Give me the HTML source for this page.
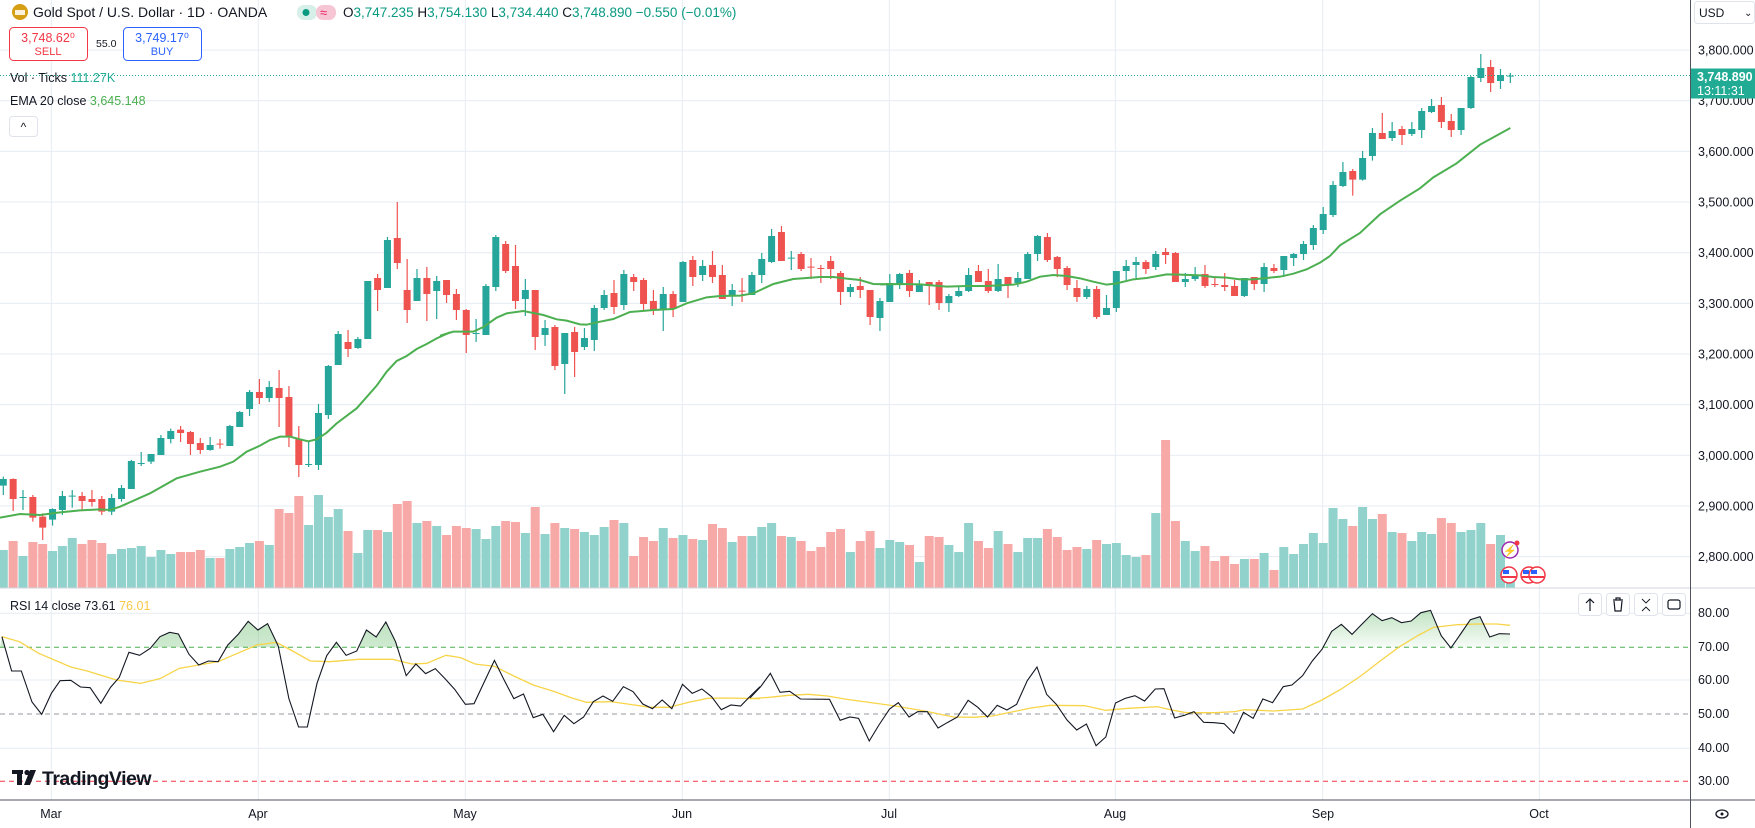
<!DOCTYPE html>
<html><head><meta charset="utf-8">
<style>
html,body{margin:0;padding:0;background:#fff;}
svg{display:block;font-family:"Liberation Sans",sans-serif;}
.ns{vector-effect:non-scaling-stroke;fill:none;stroke-linecap:butt;}
</style></head>
<body>
<svg width="1755" height="828" viewBox="0 0 1755 828" xmlns="http://www.w3.org/2000/svg">
<defs>
<linearGradient id="gf" x1="0" y1="0" x2="0" y2="1"><stop offset="0" stop-color="#4caf50" stop-opacity="0.35"/><stop offset="1" stop-color="#4caf50" stop-opacity="0.03"/></linearGradient>
<clipPath id="above70"><rect x="0" y="0" width="1600" height="172"/></clipPath>
</defs>
<rect width="1755" height="828" fill="#fff"/>
<g stroke="#e6ecf2" stroke-width="1">
<line x1="0" y1="50.1" x2="1690" y2="50.1"/><line x1="0" y1="100.75" x2="1690" y2="100.75"/><line x1="0" y1="151.4" x2="1690" y2="151.4"/><line x1="0" y1="202.05" x2="1690" y2="202.05"/><line x1="0" y1="252.7" x2="1690" y2="252.7"/><line x1="0" y1="303.35" x2="1690" y2="303.35"/><line x1="0" y1="354" x2="1690" y2="354"/><line x1="0" y1="404.65" x2="1690" y2="404.65"/><line x1="0" y1="455.3" x2="1690" y2="455.3"/><line x1="0" y1="505.95" x2="1690" y2="505.95"/><line x1="0" y1="556.6" x2="1690" y2="556.6"/>
<line x1="0" y1="613.3" x2="1690" y2="613.3"/><line x1="0" y1="680" x2="1690" y2="680"/><line x1="0" y1="748.3" x2="1690" y2="748.3"/>
<line x1="51.3" y1="0" x2="51.3" y2="800"/><line x1="258.3" y1="0" x2="258.3" y2="800"/><line x1="465.3" y1="0" x2="465.3" y2="800"/><line x1="682.3" y1="0" x2="682.3" y2="800"/><line x1="889.3" y1="0" x2="889.3" y2="800"/><line x1="1115.3" y1="0" x2="1115.3" y2="800"/><line x1="1322.7" y1="0" x2="1322.7" y2="800"/><line x1="1539.3" y1="0" x2="1539.3" y2="800"/>
</g>

<g transform="translate(-6.55,180) scale(9.85,0.333333)">
<path class="ns" stroke="#92d2cc" stroke-width="9" d="M1 1110V1223M3 1128V1223M6 1113V1223M7 1098V1223M8 1074V1223M12 1122V1223M13 1107V1223M14 1104V1223M15 1098V1223M16 1131V1223M17 1110V1223M18 1122V1223M22 1134V1223M24 1107V1223M25 1101V1223M26 1089V1223M28 1095V1223M32 1035V1223M33 945V1223M34 1011V1223M35 987V1223M37 1119V1223M38 1050V1223M40 1056V1223M43 1029V1223M45 1038V1223M49 1047V1223M50 1077V1223M51 1038V1223M54 1059V1223M56 1062V1223M58 1044V1223M60 1056V1223M61 1065V1223M62 1041V1223M64 1029V1223M68 1044V1223M70 1065V1223M72 1080V1223M75 1086V1223M77 1068V1223M78 1041V1223M79 1029V1223M81 1071V1223M87 1116V1223M90 1104V1223M91 1080V1223M92 1086V1223M94 1146V1223M97 1095V1223M98 1116V1223M99 1029V1223M102 1053V1223M104 1116V1223M105 1074V1223M106 1074V1223M111 1107V1223M113 1092V1223M114 1089V1223M115 1125V1223M116 1131V1223M118 999V1223M121 1083V1223M122 1113V1223M127 1137V1223M129 1119V1223M131 1101V1223M132 1122V1223M133 1092V1223M134 1059V1223M135 1089V1223M136 984V1223M137 1017V1223M139 981V1223M140 1017V1223M142 1056V1223M144 1083V1223M145 1056V1223M146 1062V1223M149 1056V1223M150 1050V1223M151 1029V1223M153 1065V1223M154 1180V1223"/>
<path class="ns" stroke="#f7a9a7" stroke-width="9" d="M2 1083V1223M4 1086V1223M5 1092V1223M9 1092V1223M10 1080V1223M11 1089V1223M19 1116V1223M20 1116V1223M21 1110V1223M23 1134V1223M27 1083V1223M29 987V1223M30 999V1223M31 948V1223M36 1053V1223M39 1050V1223M41 972V1223M42 963V1223M44 1023V1223M46 1065V1223M47 1038V1223M48 1044V1223M52 1023V1223M53 1026V1223M55 981V1223M57 1029V1223M59 1047V1223M63 1020V1223M65 1128V1223M66 1071V1223M67 1083V1223M69 1074V1223M71 1077V1223M73 1032V1223M74 1044V1223M76 1068V1223M80 1068V1223M82 1083V1223M83 1113V1223M84 1101V1223M85 1056V1223M86 1047V1223M88 1083V1223M89 1053V1223M93 1095V1223M95 1068V1223M96 1071V1223M100 1083V1223M101 1104V1223M103 1092V1223M107 1047V1223M108 1071V1223M109 1110V1223M110 1101V1223M112 1080V1223M117 1125V1223M119 780V1223M120 1023V1223M123 1098V1223M124 1143V1223M125 1128V1223M126 1152V1223M128 1137V1223M130 1170V1223M138 1038V1223M141 1002V1223M143 1059V1223M147 1014V1223M148 1029V1223M152 1092V1223"/>
<path class="ns" stroke="#26a69a" stroke-width="1.2" d="M1 890V945M3 930V990M6 985V1037M7 933V1005M8 930V983M12 942V1005M13 915V965M14 840V927M15 816V858M16 822V852M17 765V825M18 746V790M22 771V812M24 735V798M25 693V741M26 630V708M28 603V666M32 786V861M33 672V870M34 555V717M35 453V555M37 471V507M38 303V477M40 171V324M43 267V363M45 288V417M49 417V486M50 312V465M51 165V333M54 297V408M56 420V498M58 459V642M60 444V510M61 375V513M62 330V390M64 270V390M68 321V453M70 243V366M72 240V303M75 312V378M77 276V345M78 219V309M79 147V249M81 213V270M87 312V351M90 354V453M91 282V366M92 279V327M94 300V336M97 342V396M98 321V351M99 264V336M102 252V336M104 276V321M105 216V297M106 165V243M111 318V357M113 345V405M114 273V396M115 240V300M116 231V294M118 213V270M121 279V321M122 261V303M127 294V351M129 249V336M131 228V291M132 219V258M133 183V240M134 135V210M135 81V162M136 3V111M137 -54V21M139 -87V2M140 -156V-58M142 -174V-117M144 -174V-132M145 -216V-126M146 -243V-201M149 -216V-135M150 -312V-213M151 -378V-294M153 -333V-273M154 -321V-291"/>
<path class="ns" stroke="#26a69a" stroke-width="7" d="M1 897V917M3 951V954M6 987V1019M7 948V990M8 947V950M12 954V995M13 924V957M14 843V927M15 849V852M16 822V845M17 774V825M18 753V777M22 795V810M24 738V798M25 696V741M26 636V687M28 621V654M32 852V855M33 699V855M34 558V705M35 462V555M37 477V504M38 303V477M40 180V324M43 294V363M45 303V333M49 459V462M50 318V465M51 171V321M54 330V357M56 444V465M58 459V552M60 474V501M61 384V480M62 345V384M64 282V375M68 342V390M70 246V366M72 258V285M75 330V345M77 285V345M78 237V285M79 168V246M81 233V236M87 321V336M90 363V414M91 309V366M92 282V312M94 312V336M97 348V369M98 333V348M99 285V333M102 297V333M104 294V309M105 222V297M106 168V222M111 327V351M113 384V405M114 273V384M115 258V273M116 246V255M118 222V261M121 297V306M122 285V297M127 294V348M129 261V312M131 228V270M132 222V234M133 192V222M134 144V195M135 102V150M136 15V105M137 -24V18M139 -66V-1M140 -141V-72M142 -147V-126M144 -153V-138M145 -207V-150M146 -222V-204M149 -216V-150M150 -309V-216M151 -336V-306M153 -315V-297M154 -313V-310"/>
<path class="ns" stroke="#ef5350" stroke-width="1.2" d="M2 895V993M4 945V1025M5 1000V1080M9 936V990M10 930V980M11 948V1005M19 738V786M20 753V825M21 774V822M23 777V806M27 597V672M29 570V741M30 618V801M31 738V891M36 450V531M39 282V393M41 66V267M42 237V429M44 261V423M46 300V369M47 327V420M48 387V519M52 183V279M53 195V387M55 330V510M57 435V570M59 441V591M63 300V402M65 282V333M66 294V390M67 330V405M69 333V411M71 228V318M73 213V309M74 255V357M76 294V366M80 138V243M82 216V273M83 234V297M84 255V309M85 228V297M86 273V375M88 291V354M89 330V435M93 270V351M95 306V375M96 300V390M100 255V306M101 267V339M103 291V354M107 159V246M108 228V291M109 258V330M110 300V366M112 318V417M117 240V282M119 204V252M120 216V306M123 255V324M124 294V321M125 279V333M126 300V348M128 291V330M130 252V279M138 -33V47M141 -201V-123M143 -162V-105M147 -249V-156M148 -198V-129M152 -360V-264"/>
<path class="ns" stroke="#ef5350" stroke-width="7" d="M2 897V957M4 951V1013M5 1010V1043M9 948V963M10 957V966M11 957V995M19 749V759M20 756V792M21 789V810M23 791V794M27 636V654M29 624V654M30 651V771M31 777V855M36 486V507M39 294V330M41 174V249M42 330V390M44 294V342M46 300V345M47 342V390M48 390V465M52 192V273M53 258V363M55 330V471M57 441V558M59 456V516M63 339V381M65 291V306M66 300V372M67 363V390M69 342V387M71 240V291M73 255V291M74 285V357M76 332V335M80 156V243M82 222V267M83 260V263M84 264V267M85 243V267M86 279V336M88 318V330M89 330V411M93 279V333M95 306V318M96 306V369M100 273V306M101 303V333M103 291V312M107 171V240M108 231V267M109 264V315M110 324V351M112 327V411M117 246V267M119 216V225M120 219V306M123 282V318M124 312V315M125 315V321M126 318V348M128 291V312M130 264V273M138 -27V-1M141 -141V-123M143 -153V-135M147 -225V-174M148 -177V-150M152 -339V-291"/>
</g>

<g fill="none">
<polyline class="ns" stroke="#4caf50" stroke-width="2" transform="translate(0,180) scale(0.333333)" points="0,1013 60,1002 120,1005 180,997 240,991 300,988 330,990 360,980 450,940 530,895 600,875 660,860 700,845 740,815 780,797 810,780 840,770 870,770 900,778 925,784 950,778 980,758 1010,730 1070,685 1130,617 1160,575 1190,543 1220,528 1250,507 1280,492 1310,475 1350,457"/>
<polyline class="ns" stroke="#4caf50" stroke-width="2" transform="translate(440,180) scale(0.333333)" points="0,467 40,455 100,455 130,441 170,413 200,400 250,393 310,405 350,418 380,422 420,433 440,434 480,425 520,417 570,396 640,390 700,387 740,370 800,352 840,348 900,347 940,340 1000,312 1060,297 1140,291 1180,291 1220,296 1260,300 1300,312 1350,313"/>
<polyline class="ns" stroke="#4caf50" stroke-width="2" transform="translate(880,180) scale(0.333333)" points="0,313 60,312 120,313 200,320 260,318 320,318 400,314 440,305 480,290 520,285 560,288 600,295 640,305 680,314 710,310 760,298 800,294 860,283 900,284 960,286 1000,291 1040,293 1080,298 1120,298 1160,294 1200,290 1240,281 1280,268 1320,248 1350,228"/>
<polyline class="ns" stroke="#4caf50" stroke-width="2" transform="translate(1300,180) scale(0.333333)" points="90,228 120,196 180,159 240,103 300,62 360,25 400,-8 470,-50 540,-106 631,-156"/>
</g>
<line x1="0" y1="75.5" x2="1690" y2="75.5" stroke="#22ab94" stroke-width="1" stroke-dasharray="1 2"/>

<line x1="0" y1="647.3" x2="1690" y2="647.3" stroke="#4caf50" stroke-dasharray="5 4"/>
<line x1="0" y1="714" x2="1690" y2="714" stroke="#9598a1" stroke-dasharray="5 4"/>
<line x1="0" y1="781.3" x2="1690" y2="781.3" stroke="#f23645" stroke-dasharray="5 4"/>
<g transform="translate(0,590) scale(0.48473,0.33333)">
<polygon clip-path="url(#above70)" fill="url(#gf)" points="0,172 4,140 24,243 44,243 66,336 86,373 106,310 124,272 146,271 166,291 186,293 208,340 228,292 246,262 266,187 288,196 310,175 330,140 350,127 368,132 390,193 410,225 430,213 450,215 470,165 492,132 512,94 532,120 552,101 574,168 596,326 616,411 634,411 654,280 674,197 694,157 714,196 736,183 756,120 776,141 796,96 816,155 838,257 858,222 1568,172"/>
<polyline fill="none" stroke="#f7d448" stroke-width="1.3" vector-effect="non-scaling-stroke" points="4,140 40,155 80,190 146,231 180,243 240,270 290,280 330,266 370,235 410,225 450,215 490,190 530,165 570,157 600,180 640,213 680,215 740,208 810,208 850,222 880,220 920,196 950,203 980,222 1020,229 1060,258 1100,285 1140,303 1180,324 1210,337 1260,335 1300,343 1340,352 1380,352 1420,337 1460,325 1500,324 1568,326"/>
<polyline fill="none" stroke="#131722" stroke-width="1.1" vector-effect="non-scaling-stroke" points="4,140 24,243 44,243 66,336 86,373 106,310 124,272 146,271 166,291 186,293 208,340 228,292 246,262 266,187 288,196 310,175 330,140 350,127 368,132 390,193 410,225 430,213 450,215 470,165 492,132 512,94 532,120 552,101 574,168 596,326 616,411 634,411 654,280 674,197 694,157 714,196 736,183 756,120 776,141 796,96 816,155 838,257 858,222 878,251 898,236 918,266 938,298 960,343 978,341 998,279 1020,211 1040,270 1060,326 1080,312 1100,383 1120,373 1142,425 1164,376 1184,401 1204,381 1224,335 1244,318 1264,334 1286,290 1306,305 1326,342 1346,356 1366,330 1386,356 1408,283 1428,310 1448,297 1468,320 1488,359 1508,345 1528,348 1548,318 1568,290"/>
</g>
<g transform="translate(750,590) scale(0.48473,0.33333)">
<polygon clip-path="url(#above70)" fill="url(#gf)" points="1160,172 1180,178 1200,124 1220,103 1242,133 1262,103 1284,71 1304,92 1324,83 1344,98 1364,93 1384,68 1404,61 1426,137 1446,174 1466,132 1486,89 1506,80 1526,141 1546,131 1568,132 1568,172"/>
<polyline fill="none" stroke="#f7d448" stroke-width="1.3" vector-effect="non-scaling-stroke" points="0,326 40,322 80,316 120,313 160,318 200,328 240,336 300,348 360,363 420,381 460,382 500,378 540,366 580,354 620,346 690,347 734,361 780,355 840,350 870,360 900,368 960,368 1000,365 1020,359 1080,363 1140,357 1180,330 1220,297 1260,258 1300,213 1340,170 1380,135 1410,112 1460,104 1500,102 1540,102 1568,106"/>
<polyline fill="none" stroke="#131722" stroke-width="1.1" vector-effect="non-scaling-stroke" points="0,324 22,290 42,250 62,307 82,304 104,327 164,328 186,391 206,381 224,385 246,453 266,405 288,357 306,338 328,381 346,365 366,365 388,414 408,397 428,381 450,331 470,352 490,381 510,346 530,360 550,343 572,272 592,231 612,313 632,343 654,390 674,420 694,402 714,467 734,441 754,339 774,325 794,317 814,333 836,297 854,296 876,384 896,376 916,365 936,397 958,398 978,401 998,430 1018,367 1038,385 1058,327 1078,338 1100,290 1118,285 1140,257 1160,213 1180,178 1200,124 1220,103 1242,133 1262,103 1284,71 1304,92 1324,83 1344,98 1364,93 1384,68 1404,61 1426,137 1446,174 1466,132 1486,89 1506,80 1526,141 1546,131 1568,132"/>
</g>

<line x1="0" y1="588" x2="1755" y2="588" stroke="#d1d4dc"/>
<line x1="0" y1="800" x2="1755" y2="800" stroke="#50535e"/>
<line x1="1690.5" y1="0" x2="1690.5" y2="828" stroke="#50535e"/>

<g font-size="12.5" fill="#131722">
<text x="1698" y="54.6">3,800.000</text><text x="1698" y="105.2">3,700.000</text><text x="1698" y="155.9">3,600.000</text><text x="1698" y="206.5">3,500.000</text><text x="1698" y="257.2">3,400.000</text><text x="1698" y="307.8">3,300.000</text><text x="1698" y="358.5">3,200.000</text><text x="1698" y="409.1">3,100.000</text><text x="1698" y="459.8">3,000.000</text><text x="1698" y="510.4">2,900.000</text><text x="1698" y="561.1">2,800.000</text>
</g>
<rect x="1691" y="68.5" width="64" height="30" fill="#22ab94"/>
<text x="1697" y="81" font-size="12.5" fill="#fff" font-weight="bold">3,748.890</text>
<text x="1697" y="95" font-size="12.5" fill="#fff">13:11:31</text>
<rect x="1694.5" y="1.5" width="60" height="22" rx="3" fill="#fff" stroke="#e0e3eb"/>
<text x="1699" y="17" font-size="12" fill="#131722">USD</text>
<text x="1744" y="16" font-size="10" fill="#131722">⌄</text>

<g font-size="12.5" fill="#131722">
<text x="1698" y="617">80.00</text><text x="1698" y="651">70.00</text><text x="1698" y="684">60.00</text><text x="1698" y="718">50.00</text><text x="1698" y="752">40.00</text><text x="1698" y="785">30.00</text>
</g>

<g font-size="12.5" fill="#131722" text-anchor="middle">
<text x="51" y="818">Mar</text><text x="258" y="818">Apr</text><text x="465" y="818">May</text><text x="682" y="818">Jun</text><text x="889" y="818">Jul</text><text x="1115" y="818">Aug</text><text x="1323" y="818">Sep</text><text x="1539" y="818">Oct</text>
</g>
<ellipse cx="1722" cy="814" rx="6" ry="4" fill="none" stroke="#131722" stroke-width="1.3"/><circle cx="1722" cy="814" r="1.5" fill="#131722"/>

<circle cx="20" cy="12" r="8" fill="#d49f14"/>
<rect x="15" y="10" width="10" height="5" fill="#fff" opacity="0.85"/>
<text x="33" y="17" font-size="14" fill="#131722">Gold Spot / U.S. Dollar · 1D · OANDA</text>
<rect x="297" y="5" width="20" height="15" rx="7" fill="#d7efe9"/><circle cx="306" cy="12.5" r="3.5" fill="#089981"/>
<rect x="316" y="5" width="20" height="15" rx="7" fill="#f7c6d4"/><text x="320" y="17" font-size="13" fill="#e91e63">≈</text>
<text x="343" y="17" font-size="13.5" fill="#089981"><tspan fill="#131722">O</tspan>3,747.235 <tspan fill="#131722">H</tspan>3,754.130 <tspan fill="#131722">L</tspan>3,734.440 <tspan fill="#131722">C</tspan>3,748.890 −0.550 (−0.01%)</text>

<rect x="9.5" y="27.5" width="78" height="33" rx="4" fill="#fff" stroke="#f23645"/>
<text x="48" y="42" font-size="12.5" fill="#f23645" text-anchor="middle">3,748.62⁰</text>
<text x="48" y="55" font-size="11" fill="#f23645" text-anchor="middle">SELL</text>
<text x="96" y="47" font-size="10.5" fill="#131722">55.0</text>
<rect x="123.5" y="27.5" width="78" height="33" rx="4" fill="#fff" stroke="#2962ff"/>
<text x="162" y="42" font-size="12.5" fill="#2962ff" text-anchor="middle">3,749.17⁰</text>
<text x="162" y="55" font-size="11" fill="#2962ff" text-anchor="middle">BUY</text>

<text x="10" y="82" font-size="12.5" fill="#131722">Vol · Ticks <tspan fill="#22ab94">111.27K</tspan></text>
<text x="10" y="105" font-size="12.5" fill="#131722">EMA 20 close <tspan fill="#4caf50">3,645.148</tspan></text>
<rect x="9.5" y="116.5" width="28" height="20" rx="3" fill="#fff" stroke="#e0e3eb"/>
<text x="23.5" y="131" font-size="12" fill="#131722" text-anchor="middle">^</text>

<text x="10" y="610" font-size="12.5" fill="#131722">RSI 14 close 73.61 <tspan fill="#f7c948">76.01</tspan></text>

<g fill="#fff" stroke="#e0e3eb">
<rect x="1578.5" y="593.5" width="23" height="22" rx="3"/><rect x="1606.5" y="593.5" width="23" height="22" rx="3"/><rect x="1634.5" y="593.5" width="23" height="22" rx="3"/><rect x="1662.5" y="593.5" width="23" height="22" rx="3"/>
</g>
<g stroke="#131722" fill="none" stroke-width="1.2">
<path d="M1590 611 V599 M1586 603 L1590 599 L1594 603"/>
<path d="M1613 600 H1623 M1616 600 V598 H1620 V600 M1614 601 L1615 611 H1621 L1622 601"/>
<path d="M1642 599 L1646 603 L1650 599 M1642 611 L1646 607 L1650 611" stroke-width="0.9"/>
<rect x="1668" y="600" width="12" height="9" rx="2"/>
</g>

<circle cx="1510" cy="550" r="8" fill="#fff" stroke="#9c27b0" stroke-width="1.5"/>
<text x="1510" y="554.5" font-size="11" fill="#9c27b0" text-anchor="middle">⚡</text>
<circle cx="1517" cy="543" r="2.5" fill="#f23645"/>
<g stroke="#f23645" stroke-width="1.5">
<circle cx="1509" cy="575" r="8" fill="#fff"/><circle cx="1529" cy="575" r="8" fill="#fff"/><circle cx="1537" cy="575" r="8" fill="#fff"/>
</g>
<g><rect x="1503" y="570" width="6" height="4" fill="#2962ff"/><rect x="1523" y="570" width="6" height="4" fill="#2962ff"/><rect x="1531" y="570" width="6" height="4" fill="#2962ff"/>
<rect x="1502" y="576" width="14" height="2" fill="#f23645"/><rect x="1522" y="576" width="14" height="2" fill="#f23645"/><rect x="1530" y="576" width="14" height="2" fill="#f23645"/></g>

<g fill="#131722">
<rect x="12" y="770" width="11" height="4"/><rect x="17" y="770" width="5" height="15"/>
<circle cx="27" cy="772.5" r="2.6"/><path d="M30 770 H36 L30 785 H24 Z"/>
<text x="42" y="785" font-size="19.5" font-weight="bold" letter-spacing="-0.5">TradingView</text>
</g>
</svg>
</body></html>
